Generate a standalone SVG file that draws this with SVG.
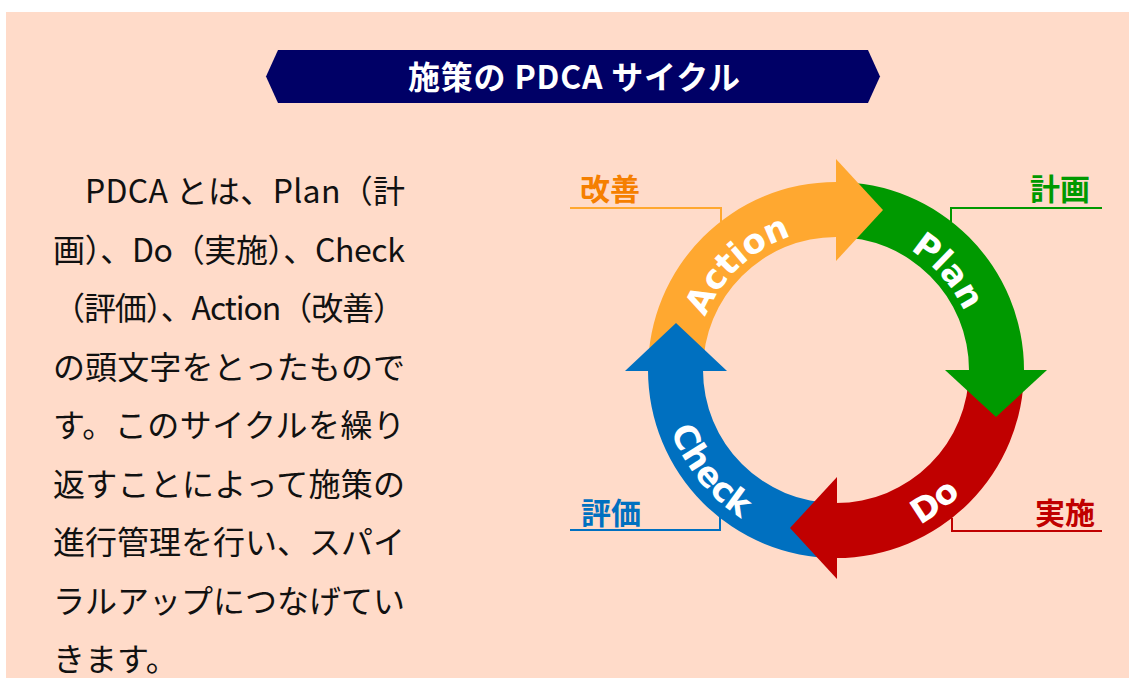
<svg xmlns="http://www.w3.org/2000/svg" width="1129" height="678" viewBox="0 0 1129 678">
<defs>
<style>
.body{font-family:"Noto Sans CJK JP","Noto Sans",sans-serif;font-size:32px;fill:#111;}
.lbl{font-family:"Noto Sans CJK JP","Noto Sans",sans-serif;font-size:30px;font-weight:bold;}
.ring{font-family:"DejaVu Sans","Noto Sans",sans-serif;font-size:34px;font-weight:bold;fill:#fff;}
.lead{fill:none;stroke-width:2;}
</style>
<path id="pA" d="M 695 370 A 141 141 0 0 1 836 229"/>
<path id="pP" d="M 836 229 A 141 141 0 0 1 977 370"/>
<path id="pC" d="M 660 370 A 176 176 0 0 0 836 546"/>
<path id="pD" d="M 836 546 A 176 176 0 0 0 1012 370"/>
</defs>
<rect x="6" y="12" width="1123" height="666" fill="#FFDBC9"/>

<g id="title">
<polygon points="278,50 868,50 880,76.5 868,103 278,103 266,76.5" fill="#000066"/>
<text x="574" y="88.5" text-anchor="middle" font-family="'Noto Sans CJK JP','Noto Sans',sans-serif" font-size="32" font-weight="bold" fill="#fff" textLength="332" lengthAdjust="spacing">施策の PDCA サイクル</text>
</g>

<g id="paragraph" class="body">
<text x="85" y="203" textLength="320" lengthAdjust="spacing">PDCA とは、Plan（計</text>
<text x="53" y="261.5" textLength="352" lengthAdjust="spacing">画）、Do（実施）、Check</text>
<text x="53" y="320" textLength="352" lengthAdjust="spacing">（評価）、Action（改善）</text>
<text x="53" y="378.5" textLength="352" lengthAdjust="spacing">の頭文字をとったもので</text>
<text x="53" y="437" textLength="352" lengthAdjust="spacing">す。このサイクルを繰り</text>
<text x="53" y="495.5" textLength="352" lengthAdjust="spacing">返すことによって施策の</text>
<text x="53" y="554" textLength="352" lengthAdjust="spacing">進行管理を行い、スパイ</text>
<text x="53" y="612.5" textLength="352" lengthAdjust="spacing">ラルアップにつなげてい</text>
<text x="53" y="671">きます。</text>
</g>

<g id="connectors">
<polyline class="lead" points="570,208 721,208 721,222" stroke="#FFA830"/>
<polyline class="lead" points="1102,208 951,208 951,222" stroke="#009900"/>
<polyline class="lead" points="1102,531 952,531 952,518" stroke="#C00000"/>
<polyline class="lead" points="570,530 720,530 720,517" stroke="#0070C0"/>
</g>

<g id="cycle">
<path id="action-body" d="M 648 370 A 188 188 0 0 1 836 182 L 836 237 A 133 133 0 0 0 703 370 Z" fill="#FFA830"/>
<path id="plan-body" d="M 836 182 A 188 188 0 0 1 1024 370 L 969 370 A 133 133 0 0 0 836 237 Z" fill="#009900"/>
<path id="do-body" d="M 1024 370 A 188 188 0 0 1 836 558 L 836 503 A 133 133 0 0 0 969 370 Z" fill="#C00000"/>
<path id="check-body" d="M 836 558 A 188 188 0 0 1 648 370 L 703 370 A 133 133 0 0 0 836 503 Z" fill="#0070C0"/>
<polygon id="action-head" points="836,159 883,210 836,261" fill="#FFA830"/>
<polygon id="plan-head" points="945,370 1047,370 996,417" fill="#009900"/>
<polygon id="do-head" points="837,477 837,579 790,528" fill="#C00000"/>
<polygon id="check-head" points="625,371 727,371 676,323" fill="#0070C0"/>
</g>

<g id="ring-labels" class="ring">
<text><textPath href="#pA" startOffset="52%" text-anchor="middle">Action</textPath></text>
<text><textPath href="#pP" startOffset="54%" text-anchor="middle">Plan</textPath></text>
<text><textPath href="#pC" startOffset="43%" text-anchor="middle">Check</textPath></text>
<text><textPath href="#pD" startOffset="41%" text-anchor="middle">Do</textPath></text>
</g>

<g id="label-kaizen"><text class="lbl" x="580" y="200" fill="#F57F00">改善</text></g>
<g id="label-keikaku"><text class="lbl" x="1030" y="200" fill="#009900">計画</text></g>
<g id="label-jisshi"><text class="lbl" x="1035" y="524" fill="#C00000">実施</text></g>
<g id="label-hyouka"><text class="lbl" x="581" y="524" fill="#0070C0">評価</text></g>
</svg>
